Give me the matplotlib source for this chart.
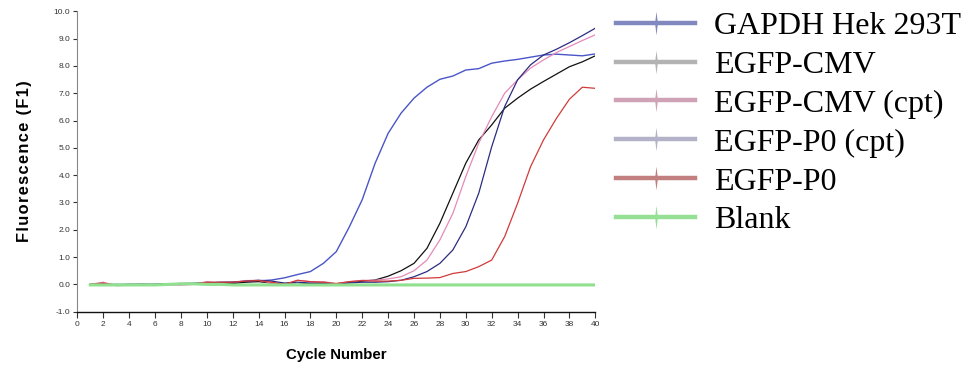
import matplotlib
matplotlib.use("Agg")
import matplotlib.pyplot as plt
from matplotlib.path import Path

cycles = list(range(1, 41))

gapdh = [0.00, 0.00, 0.00, 0.00, 0.00, 0.00, 0.02, 0.03, 0.04, 0.05,
         0.06, 0.08, 0.10, 0.13, 0.16, 0.24, 0.36, 0.47, 0.77, 1.20,
         2.10, 3.10, 4.44, 5.53, 6.27, 6.82, 7.22, 7.51, 7.63, 7.85,
         7.90, 8.10, 8.18, 8.24, 8.32, 8.40, 8.43, 8.40, 8.37, 8.44]
egfp_cmv = [0.00, 0.02, -0.02, 0.00, 0.00, 0.00, 0.02, 0.03, 0.03, 0.05,
            0.04, 0.03, 0.08, 0.10, 0.05, 0.02, 0.00, 0.03, 0.03, 0.02,
            0.08, 0.12, 0.16, 0.30, 0.50, 0.77, 1.32, 2.24, 3.34, 4.44,
            5.29, 5.84, 6.45, 6.82, 7.15, 7.43, 7.70, 7.97, 8.15, 8.37]
egfp_cmv_cpt = [0.00, 0.08, -0.05, -0.03, -0.02, -0.03, -0.02, -0.03, 0.00, 0.10,
                0.05, 0.08, 0.14, 0.15, 0.05, 0.00, 0.15, 0.10, 0.10, 0.03,
                0.10, 0.15, 0.15, 0.20, 0.28, 0.50, 0.89, 1.63, 2.60, 3.95,
                5.17, 6.14, 7.00, 7.49, 7.92, 8.22, 8.49, 8.71, 8.93, 9.14]
egfp_p0_cpt = [-0.02, 0.00, -0.02, -0.02, 0.00, -0.02, 0.00, 0.02, 0.03, 0.05,
               0.08, 0.08, 0.12, 0.15, 0.12, 0.05, 0.08, 0.05, 0.05, 0.00,
               0.05, 0.08, 0.08, 0.10, 0.15, 0.28, 0.47, 0.77, 1.26, 2.11,
               3.34, 5.04, 6.51, 7.49, 8.04, 8.40, 8.61, 8.85, 9.11, 9.38]
egfp_p0 = [0.00, 0.05, -0.03, -0.03, -0.02, -0.03, 0.00, 0.00, 0.02, 0.08,
           0.08, 0.08, 0.12, 0.14, 0.08, 0.00, 0.15, 0.10, 0.08, 0.03,
           0.10, 0.14, 0.12, 0.12, 0.15, 0.22, 0.23, 0.25, 0.40, 0.47,
           0.65, 0.89, 1.75, 2.97, 4.31, 5.29, 6.08, 6.78, 7.22, 7.18]
blank = [-0.02, -0.02, -0.02, -0.02, -0.02, -0.02, 0.00, 0.02, 0.02, 0.00,
         0.00, -0.02, -0.02, -0.02, -0.02, -0.02, -0.02, -0.02, -0.02, -0.02,
         -0.02, -0.02, -0.02, -0.02, -0.02, -0.02, -0.02, -0.02, -0.02, -0.02,
         -0.02, -0.02, -0.02, -0.02, -0.02, -0.02, -0.02, -0.02, -0.02, -0.02]

labels = ["GAPDH Hek 293T", "EGFP-CMV", "EGFP-CMV (cpt)",
          "EGFP-P0 (cpt)", "EGFP-P0", "Blank"]
series = [gapdh, egfp_cmv, egfp_cmv_cpt, egfp_p0_cpt, egfp_p0, blank]
line_colors = ["#4a55c8", "#111111", "#e58ab8", "#2c2c80", "#d23a3a", "#8fe08f"]
line_widths = [1.0, 0.9, 0.9, 0.9, 0.9, 2.2]
legend_colors = ["#8088bf", "#b3b3b3", "#cfa2b6", "#b3b2c9", "#c27f7f", "#96e096"]

x_ticks = list(range(0, 41, 2))
y_ticks = [-1.0, 0.0, 1.0, 2.0, 3.0, 4.0, 5.0, 6.0, 7.0, 8.0, 9.0, 10.0]

fig = plt.figure(figsize=(9.69, 3.70), dpi=100)
ax = fig.add_axes([77.3 / 969, 1 - 311.7 / 370, (595.3 - 77.3) / 969, (311.7 - 11.3) / 370])

for vals, col, lw in zip(series, line_colors, line_widths):
    ax.plot(cycles, vals, color=col, lw=lw, solid_joinstyle="round")

ax.set_xlim(0, 40)
ax.set_ylim(-1.0, 10.0)
ax.set_xticks(x_ticks)
ax.set_yticks(y_ticks)
ax.set_yticklabels([f"{v:.1f}" for v in y_ticks])
ax.tick_params(axis="both", labelsize=6, colors="#333333", length=3, width=0.8,
               pad=2)
ax.tick_params(axis="x", length=4, pad=2.5)
for lab in ax.get_xticklabels() + ax.get_yticklabels():
    lab.set_family("Liberation Sans")
ax.spines["top"].set_visible(False)
ax.spines["right"].set_visible(False)
ax.spines["left"].set_color("#888888")
ax.spines["bottom"].set_color("#111111")
ax.spines["bottom"].set_linewidth(1.0)
ax.patch.set_alpha(0)

ax.set_xlabel("Cycle Number", family="Liberation Sans", weight="bold",
              fontsize=10.8, labelpad=14.5)
# letter-spaced axis title
hair = "\u200a"
ax.set_ylabel(hair.join("Fluorescence (F1)"),
              family=["Liberation Sans", "DejaVu Sans"], weight="bold",
              fontsize=11.8, labelpad=15.5)

# slim vertical diamond used as the legend marker
spike = Path([(0, 1), (0.12, 0), (0, -1), (-0.12, 0), (0, 1)],
             [Path.MOVETO, Path.LINETO, Path.LINETO, Path.LINETO, Path.CLOSEPOLY])
handles = [plt.Line2D([], [], color=c, lw=3.2, marker=spike, markersize=17,
                      markeredgewidth=0, markerfacecolor=c)
           for c in legend_colors]
fig.legend(handles, labels, loc="upper left", bbox_to_anchor=(610 / 969, 1 - 5 / 370),
           frameon=False, prop={"family": "Liberation Serif", "size": 23},
           handlelength=2.45, handletextpad=0.62, labelspacing=0.3,
           borderaxespad=0, borderpad=0.2)

fig.savefig("out.png", dpi=100)
